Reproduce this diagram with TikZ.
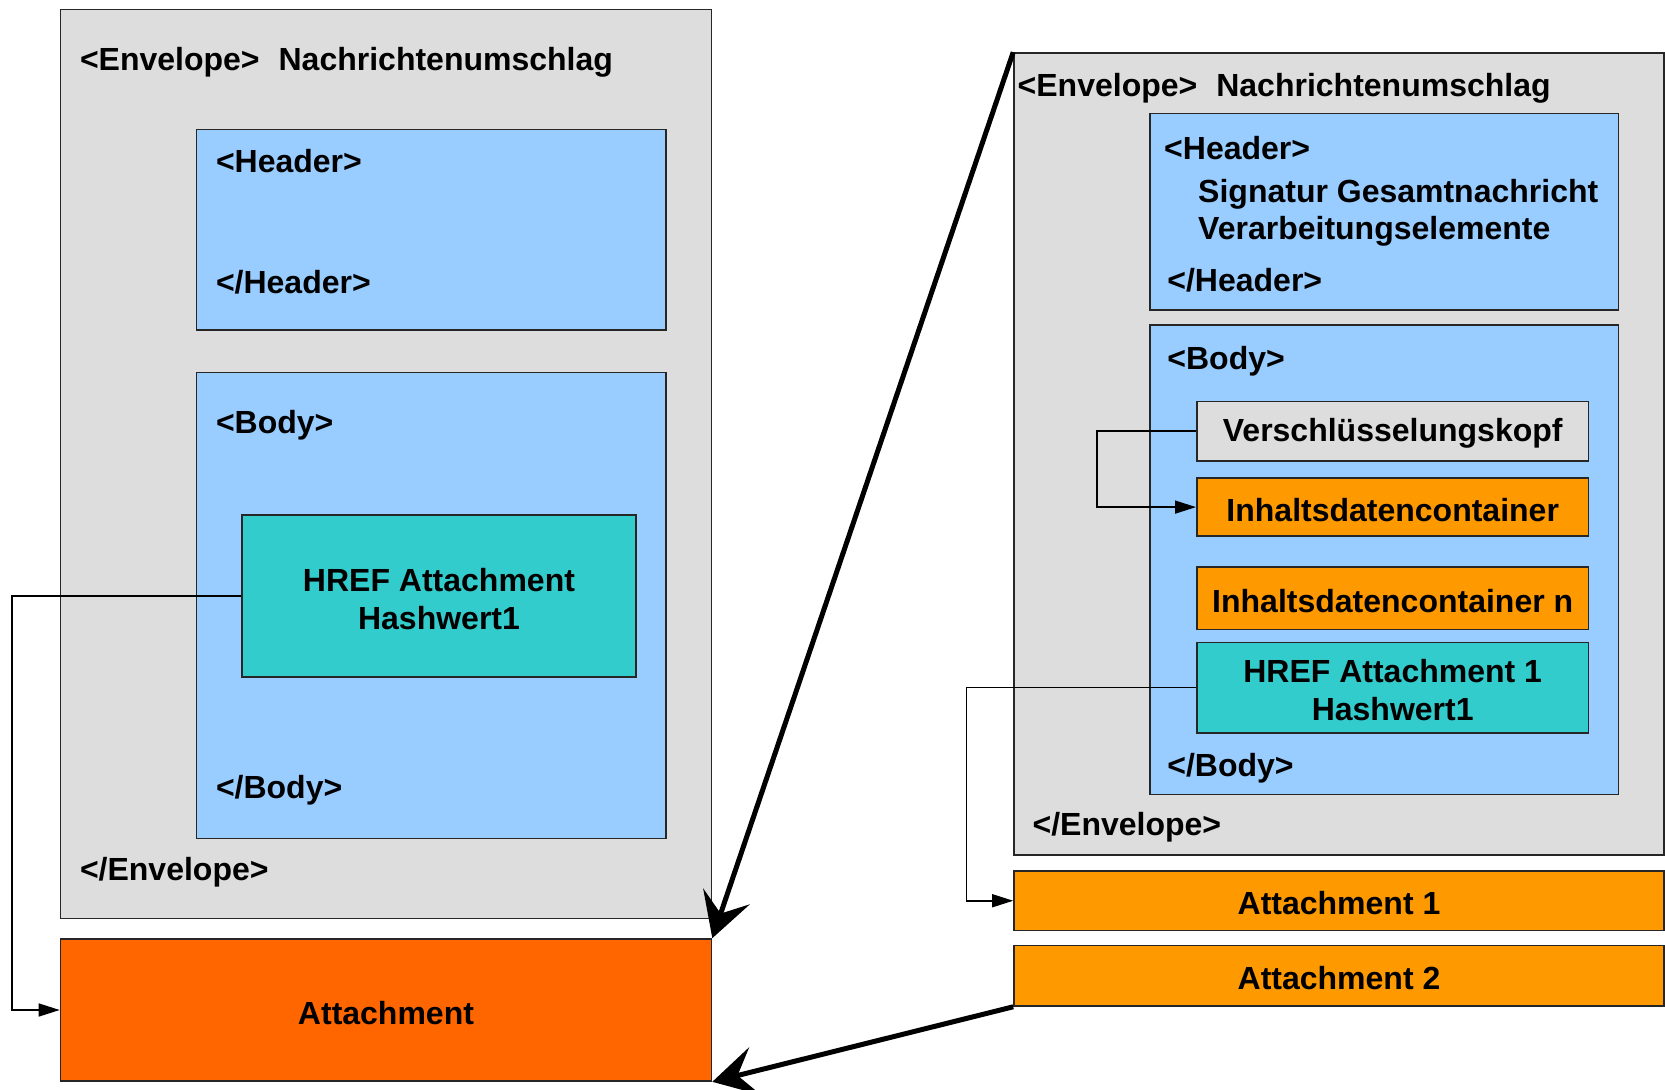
\documentclass[tikz,border=0pt]{standalone}
\usepackage{fontspec}
\setmainfont{Liberation Sans}
\usetikzlibrary{arrows.meta,fit}
\definecolor{envgray}{HTML}{DDDDDD}
\definecolor{partblue}{HTML}{99CCFF}
\definecolor{hreft}{HTML}{33CCCC}
\definecolor{attred}{HTML}{FF6600}
\definecolor{attorange}{HTML}{FF9900}
\begin{document}
\begin{tikzpicture}[x=0.5pt,y=-0.5pt,
  box/.style={draw=black!85, line width=0.8pt, inner sep=0pt},
  lbl/.style={anchor=base west, inner sep=0pt, font=\bfseries\fontsize{16}{19}\selectfont},
  inbox/.style={font=\bfseries\fontsize{16}{19}\selectfont, align=center, inner sep=0pt, yshift=-1.3pt},
  txt/.style={label={[inbox]center:#1}},
  conn/.style={line width=0.75pt, -{Triangle[length=10.5pt,width=6.5pt]}},
  bigarrow/.style={line width=2.5pt, -{Stealth[length=22pt,width=24.5pt,inset=9pt]}}]
\useasboundingbox (0,0) rectangle (1665,1090);

% left message
\node[box, fill=envgray, fit={(60.5,9.6) (711.5,918.5)}] (envL) {};
\node[box, fill=partblue, fit={(196.5,129.6) (665.8,330.3)}] (hdrL) {};
\node[box, fill=partblue, fit={(196.5,372.7) (665.8,838.5)}] (bodyL) {};
\node[box, fill=hreft, fit={(242,515) (636,677)}, txt={HREF Attachment\\Hashwert1}] (hrefL) {};
\node[box, fill=attred, fit={(60.5,939) (711.5,1081)}, txt={Attachment}] (attL) {};

\node[lbl] (envLt) at (79.6,71) {<Envelope>\hspace{9.5pt}Nachrichtenumschlag};
\node[lbl] (hdrLo) at (215.6,173) {<Header>};
\node[lbl] (hdrLc) at (215.6,294) {</Header>};
\node[lbl] (bodyLo) at (215.6,434) {<Body>};
\node[lbl] (bodyLc) at (215.6,798) {</Body>};
\node[lbl] (envLc) at (79.6,880) {</Envelope>};

% right message
\node[box, fill=envgray, fit={(1014,53) (1664,855)}] (envR) {};
\node[box, fill=partblue, fit={(1150,113.6) (1618.4,310)}] (hdrR) {};
\node[box, fill=partblue, fit={(1150,325) (1618.4,794.3)}] (bodyR) {};
\node[box, fill=envgray, fit={(1196.8,401.4) (1588.6,460.9)}, txt={Verschlüsselungskopf}] (vkopf) {};
\node[box, fill=attorange, fit={(1196.8,477.9) (1588.6,536.3)}, txt={Inhaltsdatencontainer}] (idc) {};
\node[box, fill=attorange, fit={(1196.8,567) (1588.6,629.7)}, txt={Inhaltsdatencontainer n}] (idcn) {};
\node[box, fill=hreft, fit={(1196.8,642.5) (1588.6,732.7)}, txt={HREF Attachment 1\\Hashwert1}] (hrefR) {};
\node[box, fill=attorange, fit={(1014,871) (1664,930.5)}, txt={Attachment 1}] (att1) {};
\node[box, fill=attorange, fit={(1014,945.5) (1664,1006)}, txt={Attachment 2}] (att2) {};

\node[lbl] (envRt) at (1017.3,96.5) {<Envelope>\hspace{9.5pt}Nachrichtenumschlag};
\node[lbl] (hdrRo) at (1163.8,160) {<Header>};
\node[lbl] (sig) at (1197.8,202.6) {Signatur Gesamtnachricht};
\node[lbl] (verarb) at (1197.8,240) {Verarbeitungselemente};
\node[lbl] (hdrRc) at (1167,292) {</Header>};
\node[lbl] (bodyRo) at (1167,369.5) {<Body>};
\node[lbl] (bodyRc) at (1167,776) {</Body>};
\node[lbl] (envRc) at (1032.2,835.5) {</Envelope>};

% bend points of the reference lines
\coordinate (lbend) at (12,0);
\coordinate (kbend) at (1097,0);
\coordinate (rbend) at (966.5,0);

\draw[conn] (hrefL.west) -- (hrefL.west -| lbend) |- (attL.west);
\draw[conn] (vkopf.west) -- (vkopf.west -| kbend) |- (idc.west);
\draw[conn] (hrefR.west) -- (hrefR.west -| rbend) |- (att1.west);

% correspondence arrows
\draw[bigarrow] (envR.north west) -- (attL.north east);
\draw[bigarrow] (att2.south west) -- (attL.south east);
\end{tikzpicture}
\end{document}
